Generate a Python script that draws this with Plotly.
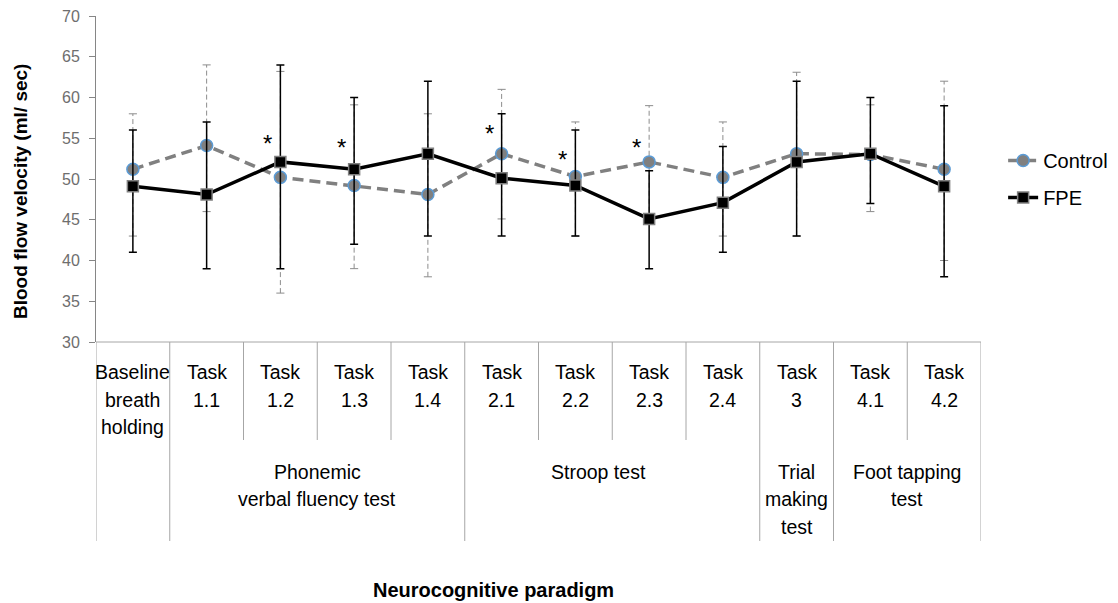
import plotly.graph_objects as go

# ---------------- data ----------------
task_labels = ["Baseline\nbreath\nholding", "Task\n1.1", "Task\n1.2", "Task\n1.3", "Task\n1.4",
               "Task\n2.1", "Task\n2.2", "Task\n2.3", "Task\n2.4", "Task\n3", "Task\n4.1", "Task\n4.2"]
group_labels = ["", "Phonemic\nverbal fluency test", "Stroop test", "Trial\nmaking\ntest", "Foot tapping\ntest"]
group_sizes = [1, 4, 4, 1, 2]

control_mean = [51.2, 54.1, 50.2, 49.2, 48.1, 53.1, 50.3, 52.1, 50.2, 53.1, 53.0, 51.2]
control_hi = [58, 64, 63.2, 59.1, 58, 61, 57, 59, 57, 63.1, 59.1, 62]
control_lo = [43, 46, 36, 39, 38, 45.1, 43, 45, 43, 43, 46, 40]

fpe_mean = [49.1, 48.1, 52.1, 51.2, 53.1, 50.1, 49.2, 45.1, 47.1, 52.1, 53.1, 49.1]
fpe_hi = [56, 57, 64, 60, 62, 58, 56, 51, 54, 62, 60, 59]
fpe_lo = [41, 39, 39, 42, 43, 43, 43, 39, 41, 43, 47, 38]

sig_tasks = [2, 3, 5, 6, 7]
sig_heights = [54.8, 54.3, 56.1, 52.9, 54.4]

y_ticks = [30, 35, 40, 45, 50, 55, 60, 65, 70]

# ---------------- figure ----------------
FONT = "Liberation Sans, Arial, sans-serif"
x = list(range(len(task_labels)))
n = len(x)
GRID = "#a6a6a6"

fig = go.Figure()

# Control error bars (thin dashed grey)
cap = 0.055
ex, ey = [], []
cx, cy = [], []
for i in x:
    ex += [i, i, None]
    ey += [control_lo[i], control_hi[i], None]
    cx += [i - cap, i + cap, None, i - cap, i + cap, None]
    cy += [control_hi[i], control_hi[i], None, control_lo[i], control_lo[i], None]
fig.add_trace(go.Scatter(x=ex, y=ey, mode="lines", showlegend=False, hoverinfo="skip",
                         line=dict(color="#8c8c8c", width=1, dash="5px,3px")))
fig.add_trace(go.Scatter(x=cx, y=cy, mode="lines", showlegend=False, hoverinfo="skip",
                         line=dict(color="#8c8c8c", width=1)))

# Control series
fig.add_trace(go.Scatter(
    x=x, y=control_mean, mode="lines+markers", name="Control", legendgroup="c",
    line=dict(color="#808080", width=3.5, dash="11px,6px"),
    marker=dict(symbol="circle", size=12, color="#808080",
                line=dict(color="#5b9bd5", width=1.5)),
))

# FPE series
fig.add_trace(go.Scatter(
    x=x, y=fpe_mean, mode="lines+markers", name="FPE", legendgroup="f",
    line=dict(color="#000000", width=3.5),
    marker=dict(symbol="square", size=11, color="#000000",
                line=dict(color="#808080", width=1.5)),
    error_y=dict(type="data", symmetric=False,
                 array=[h - m for h, m in zip(fpe_hi, fpe_mean)],
                 arrayminus=[m - l for m, l in zip(fpe_mean, fpe_lo)],
                 color="#000000", thickness=1.5, width=4),
))

annotations = []
shapes = []

# category table
row1_bottom = -0.3006
table_bottom = -0.6104
shapes.append(dict(type="line", xref="x", yref="paper", x0=-0.5, x1=n - 0.5, y0=0, y1=0,
                   line=dict(color=GRID, width=1)))
group_edges = [0]
for s in group_sizes:
    group_edges.append(group_edges[-1] + s)
for k in range(n + 1):
    y_end = table_bottom if k in group_edges else row1_bottom
    shapes.append(dict(type="line", xref="x", yref="paper", x0=k - 0.5, x1=k - 0.5,
                       y0=0, y1=y_end, line=dict(color=GRID, width=1)))

row1_lines = [-0.092, -0.178, -0.261]
for i, lab in enumerate(task_labels):
    for j, line in enumerate(lab.split("\n")):
        annotations.append(dict(x=i, y=row1_lines[j], xref="x", yref="paper", text=line,
                                showarrow=False, xanchor="center", yanchor="middle",
                                font=dict(family=FONT, size=19.5, color="#000000")))

group_lines = [-0.399, -0.482, -0.567]
group_shift = {2: -0.18}
for g, lab in enumerate(group_labels):
    if not lab:
        continue
    center = (group_edges[g] + group_edges[g + 1] - 1) / 2 + group_shift.get(g, 0)
    for j, line in enumerate(lab.split("\n")):
        annotations.append(dict(x=center, y=group_lines[j], xref="x", yref="paper", text=line,
                                showarrow=False, xanchor="center", yanchor="middle",
                                font=dict(family=FONT, size=19.5, color="#000000")))

# significance asterisks
for t, h in zip(sig_tasks, sig_heights):
    annotations.append(dict(x=t - 0.17, y=h, xref="x", yref="y", text="*", showarrow=False,
                            xanchor="center", yanchor="middle", yshift=-4,
                            font=dict(family=FONT, size=24, color="#000000")))

# axis titles
annotations.append(dict(x=0.4486, y=-0.761, xref="paper", yref="paper",
                        text="<b>Neurocognitive paradigm</b>", showarrow=False,
                        xanchor="center", yanchor="middle",
                        font=dict(family=FONT, size=20, color="#000000")))
annotations.append(dict(x=-0.0859, y=0.463, xref="paper", yref="paper",
                        text="<b>Blood flow velocity (ml/ sec)</b>", showarrow=False,
                        textangle=-90, xanchor="center", yanchor="middle",
                        font=dict(family=FONT, size=19, color="#000000")))

fig.update_layout(
    width=1110, height=595,
    margin=dict(l=88, r=137, t=8, b=261, autoexpand=False),
    paper_bgcolor="white", plot_bgcolor="white",
    font=dict(family=FONT, color="#000000"),
    xaxis=dict(range=[-0.5, n - 0.5], showticklabels=False, showgrid=False, zeroline=False,
               showline=False, ticks="", automargin=False),
    yaxis=dict(range=[30, 70], tickvals=y_ticks, showgrid=False, zeroline=False,
               showline=True, linecolor="#868686", linewidth=1, automargin=False,
               ticks="outside", ticklen=6, tickcolor="#868686", ticklabelstandoff=6,
               ticklabeloverflow="allow",
               tickfont=dict(family=FONT, size=16, color="#6e6e6e")),
    legend=dict(x=1.025, y=0.5, xanchor="left", yanchor="middle",
                font=dict(family=FONT, size=20, color="#000000"),
                tracegroupgap=8, bgcolor="rgba(0,0,0,0)"),
    shapes=shapes,
    annotations=annotations,
)

fig.write_html("out.html")
